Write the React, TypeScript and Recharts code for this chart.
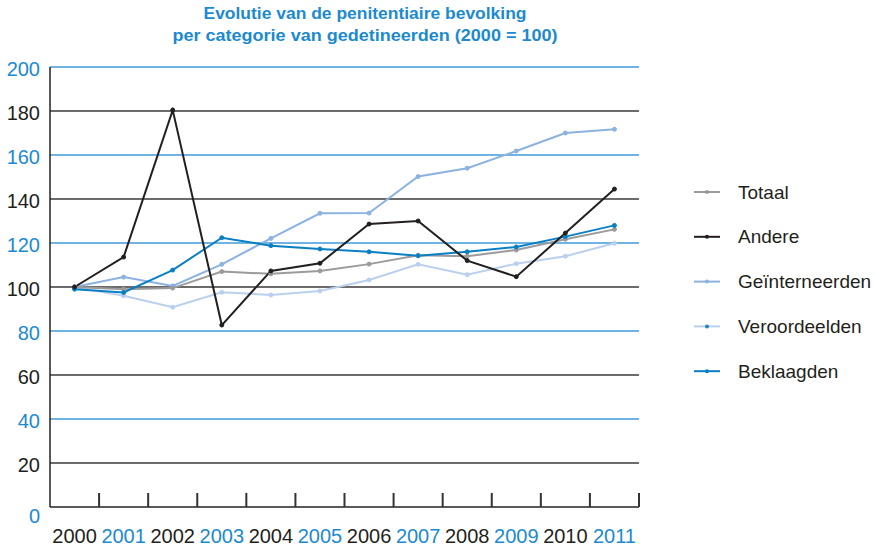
import { LineChart, Line, XAxis, YAxis, ReferenceLine } from "recharts"

const years = ["2000", "2001", "2002", "2003", "2004", "2005", "2006", "2007", "2008", "2009", "2010", "2011"]

const totaal = [100, 99, 99.5, 107, 106, 107.3, 110.4, 114.4, 114, 116.8, 121.7, 126.2]
const andere = [100, 113.6, 180.4, 82.7, 107.3, 110.8, 128.6, 130, 112, 104.7, 124.5, 144.5]
const geinterneerden = [100, 104.5, 100.5, 110.3, 122.1, 133.5, 133.6, 150.2, 154, 161.8, 170, 171.7]
const veroordeelden = [100, 96, 90.8, 97.6, 96.4, 98.2, 103.2, 110.3, 105.6, 110.6, 114, 119.9]
const beklaagden = [99, 97.5, 107.7, 122.4, 118.8, 117.3, 116, 114.2, 116, 118.2, 122.9, 128]

const yTicks = [0, 20, 40, 60, 80, 100, 120, 140, 160, 180, 200]

const titleLines = [
  "Evolutie van de penitentiaire bevolking",
  "per categorie van gedetineerden (2000 = 100)",
]

const BLUE = "#1b8ad0"
const BLACK = "#231f20"
const FONT = "'Liberation Sans', Arial, Helvetica, sans-serif"

const W = 875
const H = 547
const LEFT = 50
const RIGHT = 236
const TOP = 67
const BOTTOM = 40
const plotW = W - LEFT - RIGHT
const halfBand = plotW / years.length / 2

// draw order matters a bit (andere on top)
const series = [
  { key: "veroordeelden", name: "Veroordeelden", color: "#b9d0ee", legendDot: "#1a85c8", order: 3 },
  { key: "geinterneerden", name: "Geïnterneerden", color: "#8cb2e0", legendDot: "#8cb2e0", order: 2 },
  { key: "totaal", name: "Totaal", color: "#9b9b9b", legendDot: "#9b9b9b", order: 0 },
  { key: "beklaagden", name: "Beklaagden", color: "#0a7fc4", legendDot: "#0a7fc4", order: 4 },
  { key: "andere", name: "Andere", color: BLACK, legendDot: BLACK, order: 1 },
]

const data = years.map((year, i) => ({
  year,
  totaal: totaal[i],
  andere: andere[i],
  geinterneerden: geinterneerden[i],
  veroordeelden: veroordeelden[i],
  beklaagden: beklaagden[i],
}))

function YTick(props: any) {
  const { x, y, payload } = props
  const v = payload.value
  const col = (v / 20) % 2 === 0 ? BLUE : BLACK
  return (
    <text
      x={x - 2}
      y={y + (v === 0 ? 9 : 2)}
      dy="0.35em"
      textAnchor="end"
      fill={col}
      fontSize={20}
      fontFamily={FONT}
    >
      {v}
    </text>
  )
}

function XTick(props: any) {
  const { x, y, payload, index } = props
  const axisY = y - 8
  const col = index % 2 === 0 ? BLACK : BLUE
  return (
    <g>
      <line x1={x + halfBand} x2={x + halfBand} y1={axisY} y2={axisY - 14} stroke="#333" strokeWidth={2} />
      <text x={x} y={y + 28} textAnchor="middle" fill={col} fontSize={20} fontFamily={FONT}>
        {payload.value}
      </text>
    </g>
  )
}

export default function App() {
  const legendItems = [...series].sort((a, b) => a.order - b.order)

  return (
    <div style={{ position: "absolute", left: 0, top: 0, width: W, height: H, background: "#fff" }}>
      <LineChart
        width={W}
        height={H}
        data={data}
        margin={{ top: TOP, right: RIGHT, bottom: 0, left: 0 }}
      >
        {yTicks
          .filter((v) => v > 0)
          .map((v) => (
            <ReferenceLine
              key={v}
              y={v}
              stroke={(v / 20) % 2 === 0 ? "#3f9bd8" : "#3a3a3a"}
              strokeWidth={1.3}
              ifOverflow="extendDomain"
            />
          ))}

        <XAxis
          dataKey="year"
          interval={0}
          height={BOTTOM}
          padding={{ left: halfBand, right: halfBand }}
          tickLine={false}
          axisLine={{ stroke: "#222", strokeWidth: 1.5 }}
          tick={<XTick />}
        />

        <YAxis
          width={LEFT}
          domain={[0, 200]}
          ticks={yTicks}
          interval={0}
          tickLine={false}
          axisLine={{ stroke: "#222", strokeWidth: 1.5 }}
          tick={<YTick />}
        />

        {series.map((s) => (
          <Line
            key={s.key}
            type="linear"
            dataKey={s.key}
            name={s.name}
            stroke={s.color}
            strokeWidth={2}
            dot={{ r: 2, fill: s.color, stroke: s.color, strokeWidth: 1 }}
            activeDot={false}
            isAnimationActive={false}
          />
        ))}
      </LineChart>

      <svg
        width={W}
        height={60}
        style={{ position: "absolute", left: 0, top: 0, pointerEvents: "none" }}
      >
        {titleLines.map((t, i) => (
          <text
            key={i}
            x={365}
            y={19 + i * 22}
            textAnchor="middle"
            fill={BLUE}
            fontSize={17}
            fontWeight="bold"
            fontFamily={FONT}
            textLength={i === 0 ? 323 : 385}
            lengthAdjust="spacingAndGlyphs"
          >
            {t}
          </text>
        ))}
      </svg>

      <svg
        width={195}
        height={240}
        style={{ position: "absolute", left: 680, top: 160, pointerEvents: "none" }}
      >
        {legendItems.map((s, i) => {
          const cy = 32 + i * 44.8
          return (
            <g key={s.key}>
              <line x1={14} x2={40} y1={cy} y2={cy} stroke={s.color} strokeWidth={2} />
              <circle cx={27} cy={cy} r={2} fill={s.legendDot} />
              <text x={58} y={cy} dy="0.35em" fill={BLACK} fontSize={19} fontFamily={FONT}>
                {s.name}
              </text>
            </g>
          )
        })}
      </svg>
    </div>
  )
}
